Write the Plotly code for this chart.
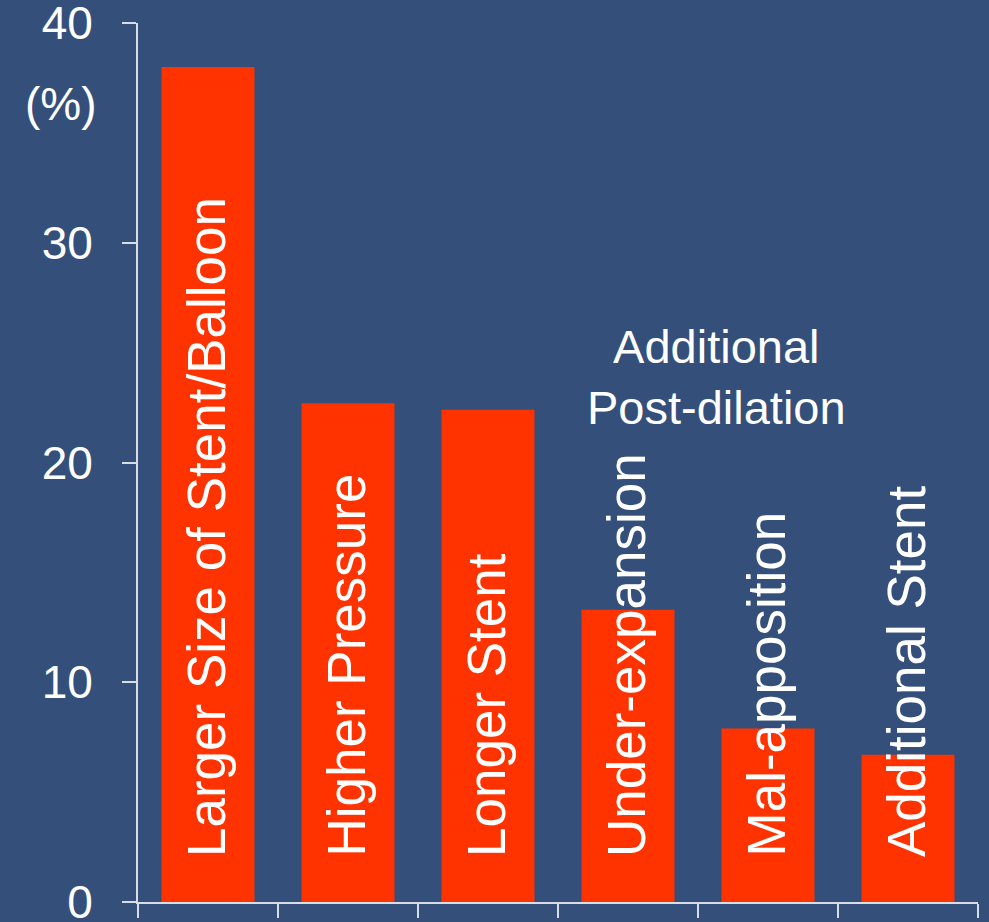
import plotly.graph_objects as go

categories = ["Larger Size of Stent/Balloon", "Higher Pressure", "Longer Stent",
              "Under-expansion", "Mal-apposition", "Additional Stent"]
values = [38.0, 22.7, 22.4, 13.3, 7.9, 6.7]
y_ticks = [0, 10, 20, 30, 40]

BG = "#34507a"
BAR = "#ff3300"
FONT = "Liberation Sans, Arial, sans-serif"
AXIS = "#d8dde6"

x_idx = list(range(len(categories)))

fig = go.Figure()
fig.add_trace(go.Bar(x=x_idx, y=values, marker=dict(color=BAR, line=dict(width=0)),
                     hoverinfo="skip"))

annotations = []
for i, label in enumerate(categories):
    annotations.append(dict(x=i, y=0, xref="x", yref="y", text=label, showarrow=False,
                            textangle=-90, xanchor="center", yanchor="bottom",
                            yshift=43, xshift=-2,
                            font=dict(family=FONT, size=53, color="white")))
annotations.append(dict(x=3.635, y=23.9, xref="x", yref="y",
                        text="Additional<br>Post-dilation", showarrow=False,
                        xanchor="center", yanchor="middle",
                        font=dict(family=FONT, size=47, color="white")))
annotations.append(dict(x=-0.047, y=36.3, xref="paper", yref="y", text="(%)",
                        showarrow=False, xanchor="right", yanchor="middle",
                        font=dict(family=FONT, size=46, color="white")))

fig.update_layout(
    width=989, height=922,
    margin=dict(l=138, r=11, t=23, b=20, autoexpand=False),
    paper_bgcolor=BG, plot_bgcolor=BG,
    bargap=0.336, showlegend=False,
    annotations=annotations,
    xaxis=dict(range=[-0.5, 5.5], tickmode="array",
               tickvals=[-0.5, 0.5, 1.5, 2.5, 3.5, 4.5, 5.5],
               ticktext=[""] * 7, ticks="outside", ticklen=14, tickwidth=2,
               tickcolor=AXIS, showline=True, linecolor=AXIS, linewidth=2,
               showgrid=False, zeroline=False, fixedrange=True, automargin=False),
    yaxis=dict(range=[0, 40], tickmode="array", tickvals=y_ticks,
               ticks="outside", ticklen=14, tickwidth=2, tickcolor=AXIS,
               showline=True, linecolor=AXIS, linewidth=2, showgrid=False,
               zeroline=False, ticklabelstandoff=20, ticklabeloverflow="allow",
               automargin=False, fixedrange=True,
               tickfont=dict(family=FONT, size=46, color="white")),
)

fig.write_html("out.html",
               config={"displayModeBar": False},
               post_script="document.body.style.margin='0';"
                           "document.body.style.background='" + BG + "';"
                           "document.body.style.overflow='hidden';")
